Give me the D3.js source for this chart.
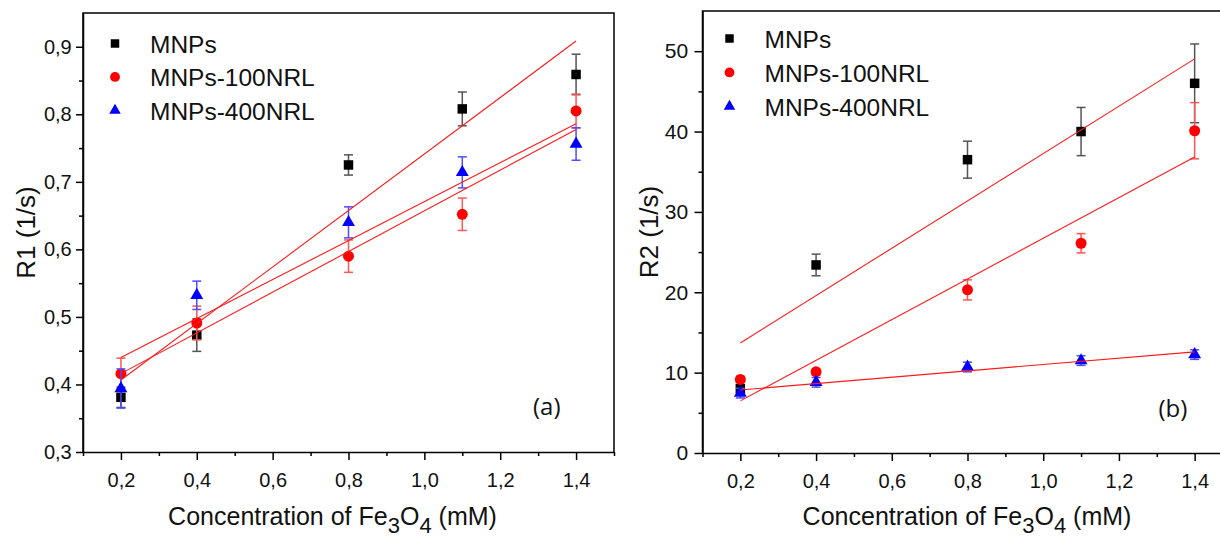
<!DOCTYPE html>
<html>
<head>
<meta charset="utf-8">
<script src="https://cdn.jsdelivr.net/npm/d3@7"></script>
<style>
  body { margin: 0; background: #fff; }
  svg { display: block; font-family: "Liberation Sans", Arial, sans-serif; }
</style>
</head>
<body>
<svg id="chart" width="1220" height="537"></svg>
<script>
// concentration of Fe3O4 (mM)
var conc = [0.2, 0.4, 0.8, 1.1, 1.4]
var seriesNames = ['MNPs', 'MNPs-100NRL', 'MNPs-400NRL']

// panel (a) R1 (1/s)
var r1MNPs = [0.381, 0.473, 0.725, 0.808, 0.859]
var r1MNPs100 = [0.416, 0.491, 0.590, 0.652, 0.805]
var r1MNPs400 = [0.394, 0.532, 0.640, 0.714, 0.756]
var r1ErrMNPs = [0.015, 0.024, 0.015, 0.025, 0.030]
var r1ErrMNPs100 = [0.023, 0.025, 0.024, 0.024, 0.025]
var r1ErrMNPs400 = [0.029, 0.021, 0.023, 0.023, 0.024]

// panel (b) R2 (1/s)
var r2MNPs = [8.0, 23.4, 36.5, 40.0, 46.0]
var r2MNPs100 = [9.15, 10.1, 20.3, 26.1, 40.1]
var r2MNPs400 = [7.45, 8.8, 10.7, 11.5, 12.25]
var r2ErrMNPs = [0.5, 1.35, 2.3, 3.0, 4.9]
var r2ErrMNPs100 = [0.4, 0.4, 1.25, 1.2, 3.5]
var r2ErrMNPs400 = [0.6, 0.6, 0.6, 0.6, 0.6]

// ticks
var xTicks = [0.2, 0.4, 0.6, 0.8, 1.0, 1.2, 1.4]
var xMinor = [0.1, 0.3, 0.5, 0.7, 0.9, 1.1, 1.3, 1.5]
var r1Ticks = [0.3, 0.4, 0.5, 0.6, 0.7, 0.8, 0.9]
var r1Minor = [0.35, 0.45, 0.55, 0.65, 0.75, 0.85]
var r2Ticks = [0, 10, 20, 30, 40, 50]
var r2Minor = [5, 15, 25, 35, 45]

var colors = ['#000000', '#ff0000', '#0000ff']
var errColors = ['#555555', '#ff5555', '#4d4dff']
var symbols = [d3.symbolSquare, d3.symbolCircle, d3.symbolTriangle]
var symSizes = [90, 95, 72]

var svg = d3.select('#chart')

var comma = d => d3.format('.1f')(d).replace('.', ',')

// least squares line through the measured points
function linFit (xs, ys) {
  var mx = d3.mean(xs)
  var my = d3.mean(ys)
  var sxy = d3.sum(xs, (x, i) => (x - mx) * (ys[i] - my))
  var sxx = d3.sum(xs, x => (x - mx) * (x - mx))
  var b = sxy / sxx
  return [my - b * mx, b]
}

function drawPanel (p) {
  var x = d3.scaleLinear().domain([0.1, 1.5]).range([p.left, p.right])
  var y = d3.scaleLinear().domain(p.yDomain).range([p.bottom, p.top])
  var g = svg.append('g')

  // frame
  g.append('path')
      .attr('d', 'M' + p.left + ',' + p.bottom + 'V' + p.top + 'H' + p.right + 'V' + p.bottom)
      .attr('fill', 'none')
      .attr('stroke', '#000')
      .attr('stroke-width', 1.5)

  var xAxis = g.append('g')
      .attr('transform', 'translate(0,' + p.bottom + ')')
      .call(d3.axisBottom(x).tickValues(xTicks).tickFormat(comma)
        .tickSize(8).tickSizeOuter(0).tickPadding(12.5))
  xAxis.append('g')
      .call(d3.axisBottom(x).tickValues(xMinor).tickFormat('').tickSize(4).tickSizeOuter(0))
      .select('.domain').remove()

  var yAxis = g.append('g')
      .attr('transform', 'translate(' + p.left + ',0)')
      .call(d3.axisLeft(y).tickValues(p.yTicks).tickFormat(p.yFormat)
        .tickSize(p.tickSize).tickSizeOuter(0).tickPadding(p.tickPad))
  yAxis.append('g')
      .call(d3.axisLeft(y).tickValues(p.yMinor).tickFormat('').tickSize(4).tickSizeOuter(0))
      .select('.domain').remove()

  g.selectAll('.domain').attr('stroke-width', 1.5)
  g.selectAll('.tick line').attr('stroke-width', 1.5)
  xAxis.selectAll('text').attr('font-size', 20).attr('fill', '#111')
  yAxis.selectAll('text').attr('font-size', p.yFont).attr('fill', '#111')

  // series: error bars then markers
  p.values.forEach(function (vals, s) {
    var errs = p.errors[s]
    var eg = g.append('g').attr('stroke', errColors[s]).attr('stroke-width', 1.5)
    conc.forEach(function (c, i) {
      var cx = x(c)
      var y0 = y(vals[i] - errs[i])
      var y1 = y(vals[i] + errs[i])
      eg.append('line').attr('x1', cx).attr('x2', cx).attr('y1', y0).attr('y2', y1)
      eg.append('line').attr('x1', cx - 4.5).attr('x2', cx + 4.5).attr('y1', y0).attr('y2', y0)
      eg.append('line').attr('x1', cx - 4.5).attr('x2', cx + 4.5).attr('y1', y1).attr('y2', y1)
    })
    g.append('g').selectAll('path')
        .data(conc)
      .enter().append('path')
        .attr('d', d3.symbol().type(symbols[s]).size(symSizes[s]))
        .attr('transform', (d, i) => 'translate(' + x(d) + ',' + y(vals[i]) + ')')
        .attr('fill', colors[s])
  })

  // linear fits
  var xr = d3.extent(conc)
  p.values.forEach(function (vals) {
    var f = linFit(conc, vals)
    g.append('line')
        .attr('x1', x(xr[0])).attr('y1', y(f[0] + f[1] * xr[0]))
        .attr('x2', x(xr[1])).attr('y2', y(f[0] + f[1] * xr[1]))
        .attr('stroke', '#ff1a1a')
        .attr('stroke-width', 1.1)
  })

  // legend
  seriesNames.forEach(function (name, s) {
    var ly = p.legY + s * p.legStep
    g.append('path')
        .attr('d', d3.symbol().type(symbols[s]).size(symSizes[s] * 0.8))
        .attr('transform', 'translate(' + p.legX + ',' + ly + ')')
        .attr('fill', colors[s])
    g.append('text')
        .attr('x', p.legX + 35)
        .attr('y', ly + 9.5)
        .attr('font-size', 24.5)
        .attr('fill', '#111')
        .text(name)
  })

  // axis titles
  g.append('text')
      .attr('transform', 'translate(' + p.yTitleX + ',' + (p.top + p.bottom) / 2 + ') rotate(-90)')
      .attr('text-anchor', 'middle')
      .attr('font-size', 26)
      .attr('fill', '#111')
      .text(p.yTitle)

  var xt = g.append('text')
      .attr('x', p.xTitleX)
      .attr('y', 525)
      .attr('text-anchor', 'middle')
      .attr('font-size', 25)
      .attr('fill', '#111')
  xt.append('tspan').text('Concentration of Fe')
  xt.append('tspan').attr('dy', 8).attr('font-size', 22).text('3')
  xt.append('tspan').attr('dy', -8).text('O')
  xt.append('tspan').attr('dy', 8).attr('font-size', 22).text('4')
  xt.append('tspan').attr('dy', -8).text(' (mM)')

  g.append('text')
      .attr('x', p.tagX)
      .attr('y', p.tagY)
      .attr('font-family', '"Open Sans", sans-serif')
      .attr('font-size', 24)
      .attr('fill', '#111')
      .text(p.tag)
}

drawPanel({
  left: 83, right: 614, top: 13, bottom: 452,
  yDomain: [0.3, 0.95], yTicks: r1Ticks, yMinor: r1Minor, yFormat: comma,
  tickSize: 7, tickPad: 4.3, yFont: 20,
  values: [r1MNPs, r1MNPs100, r1MNPs400],
  errors: [r1ErrMNPs, r1ErrMNPs100, r1ErrMNPs400],
  legX: 115, legY: 43.5, legStep: 33.4,
  yTitle: 'R1 (1/s)', yTitleX: 35, xTitleX: 332.5,
  tag: '(a)', tagX: 533, tagY: 415
})

drawPanel({
  left: 702.5, right: 1232.5, top: 11, bottom: 453,
  yDomain: [0, 55], yTicks: r2Ticks, yMinor: r2Minor, yFormat: d3.format('d'),
  tickSize: 8, tickPad: 6.3, yFont: 21,
  values: [r2MNPs, r2MNPs100, r2MNPs400],
  errors: [r2ErrMNPs, r2ErrMNPs100, r2ErrMNPs400],
  legX: 729.5, legY: 38.5, legStep: 33.9,
  yTitle: 'R2 (1/s)', yTitleX: 658, xTitleX: 967,
  tag: '(b)', tagX: 1158.5, tagY: 417
})
</script>
</body>
</html>
